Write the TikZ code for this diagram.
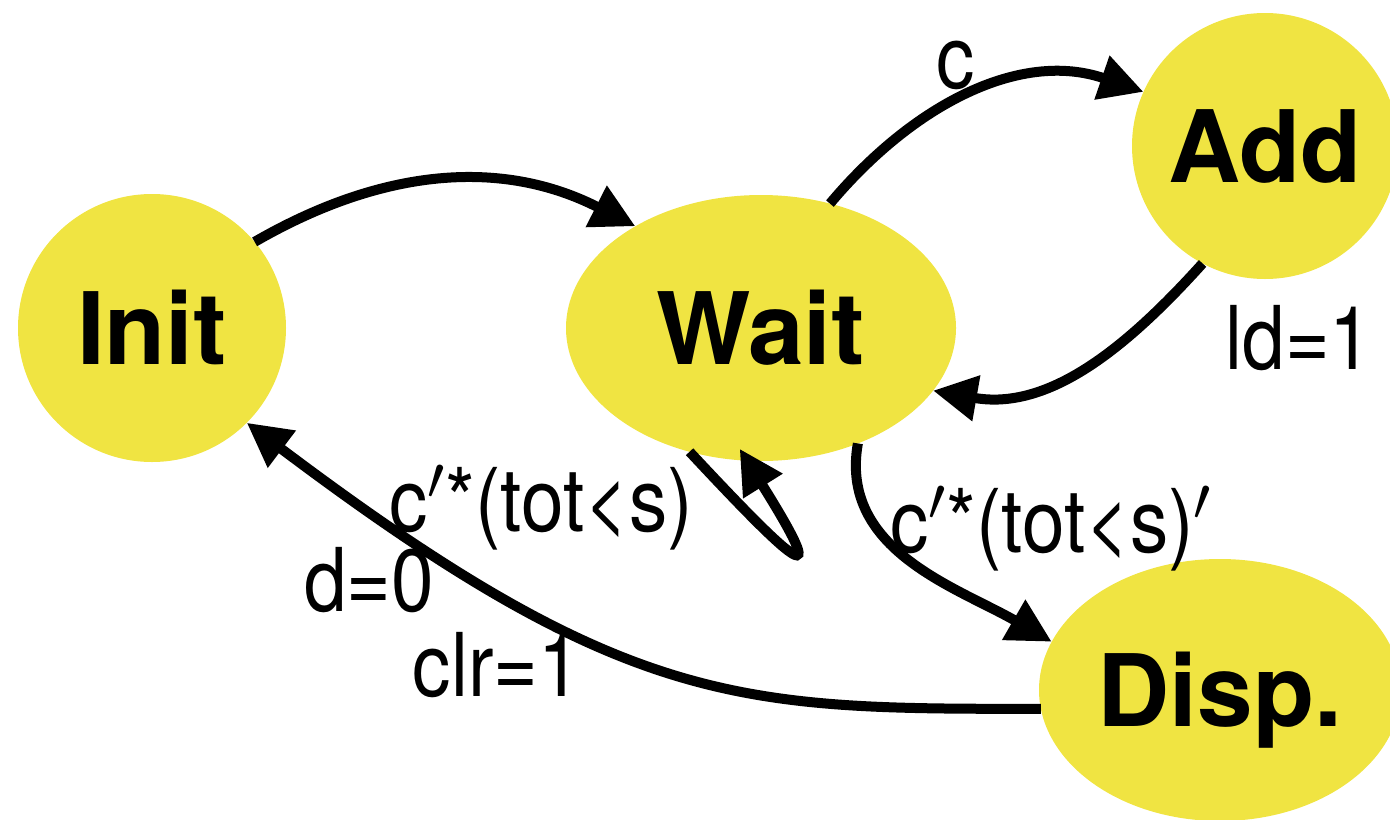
\RequirePackage{fix-cm}
\documentclass[tikz,border=0pt]{standalone}
\usepackage{fontspec}
\setmainfont{TeX Gyre Heros}
\newfontfamily\labelfont{TeX Gyre Heros}[FakeStretch=0.87]
\usepackage{tikz}
\usetikzlibrary{shapes.geometric,arrows.meta}
\definecolor{state-yellow}{HTML}{F0E442}
\tikzset{
    state-node/.style = {fill=state-yellow, inner sep=0pt, outer sep=0pt, font=\fontsize{50}{50}\selectfont\bfseries, text height=36pt, text depth=0pt},
    state-circle/.style = {state-node, circle, minimum size=133pt},
    state-ellipse/.style = {state-node, ellipse},
    trans/.style = {-{Triangle[length=22pt,width=22pt]}, line width=5pt},
    trans-label/.style = {font=\labelfont\fontsize{44}{44}\selectfont, anchor=base, inner sep=0pt},
}

\begin{document}
\begin{tikzpicture}[x=0.5pt,y=-0.5pt]
\useasboundingbox (0,0) rectangle (1390,819);
\clip (0,0) rectangle (1390,819);

\node[state-circle, minimum size=134pt] (init) at (152,328) {Init};
\node[state-ellipse, minimum width=195pt, minimum height=133pt] (wait) at (761,328) {Wait};
\node[state-circle] (add) at (1265,146) {Add};
\node[state-ellipse, minimum width=181pt, minimum height=131pt] (disp) at (1220,690) {Disp.};

\draw[trans] (init.40) to[out=30, in=153] (wait.141);
\draw[trans] (wait.61) to[out=50, in=161] (add.156);
\draw[trans] (add.242) to[out=228, in=350] (wait.340);
\draw[trans] (wait.-50) to[out=260, in=150] (disp.164);
\draw[trans] (disp.186) to[out=180, in=-37, out looseness=0.9, in looseness=1.45] (init.-45);
\draw[trans, shorten >=-7pt] (wait.240) to[out=-47, in=-58, distance=80pt] (wait.264);

\node[trans-label] (lbl-c) at (956,88) {c};
\node[trans-label] (lbl-ld) at (1299,369) {ld=1};
\node[trans-label] (lbl-stay) at (541,531) {c$'$*(tot<s)};
\node[trans-label] (lbl-go) at (1051,552) {c$'$*(tot<s)$'$};
\node[trans-label] (lbl-d) at (369,611) {d=0};
\node[trans-label] (lbl-clr) at (497,696) {clr=1};
\end{tikzpicture}
\end{document}
